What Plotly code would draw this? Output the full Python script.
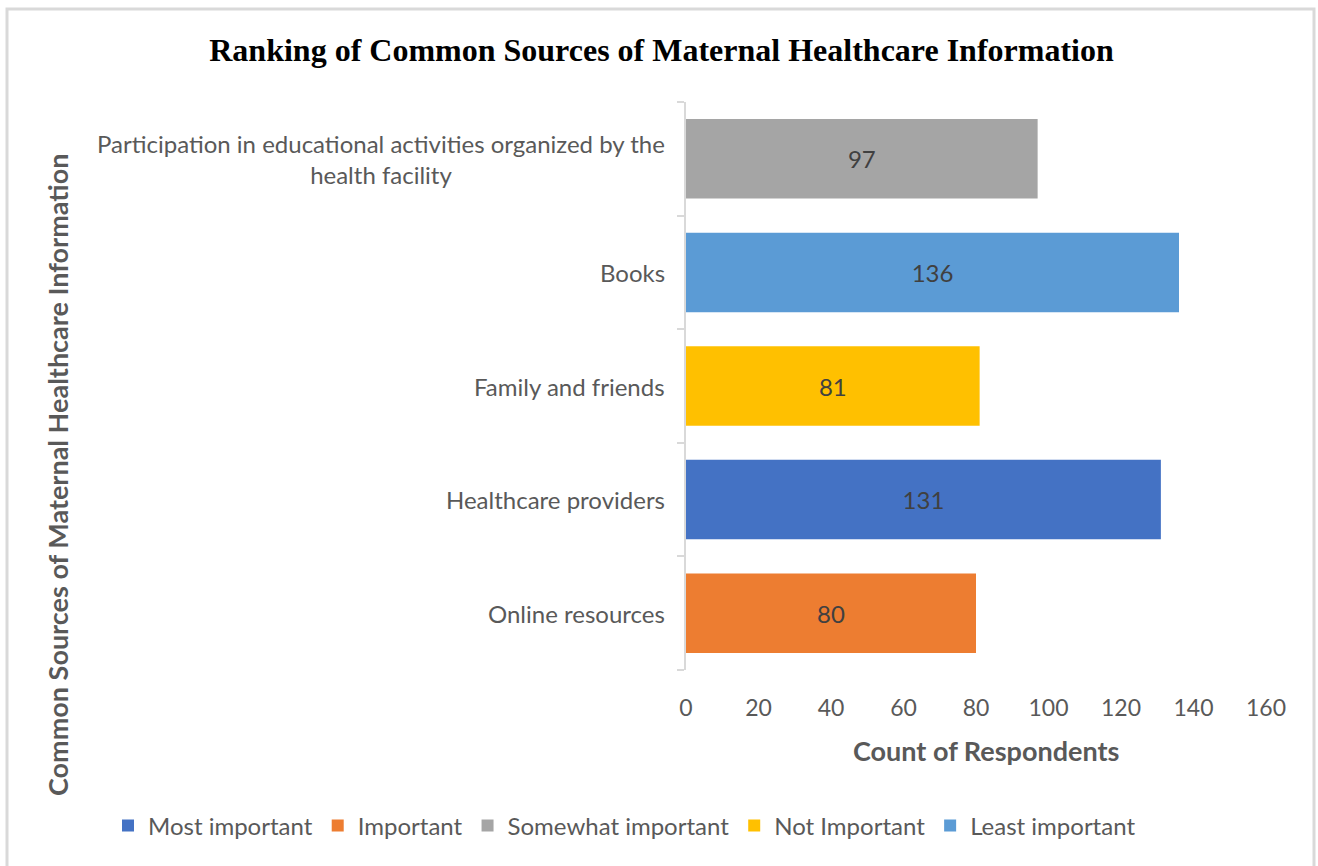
import plotly.graph_objects as go

# Sources ordered bottom-to-top on the category axis
sources = [
    "Online resources",
    "Healthcare providers",
    "Family and friends",
    "Books",
    "Participation in educational activities organized by the<br>health facility",
]

# One series per ranking level (legend order)
rank_levels = ["Most important", "Important", "Somewhat important", "Not Important", "Least important"]
rank_source = [
    "Healthcare providers",
    "Online resources",
    "Participation in educational activities organized by the<br>health facility",
    "Family and friends",
    "Books",
]
rank_counts = [131, 80, 97, 81, 136]
rank_colors = ["#4472C4", "#ED7D31", "#A5A5A5", "#FFC000", "#5B9BD5"]

x_ticks = [0, 20, 40, 60, 80, 100, 120, 140, 160]

W, H = 1318, 866
L, R, T, B = 686, 52, 102, 196
PW, PH = W - L - R, H - T - B


def px_x(px):
    return (px - L) / PW


def px_y(py):
    return (H - B - py) / PH


BODY = "Lato, 'Open Sans', sans-serif"
GREY = "#595959"

fig = go.Figure()
for name, src, val, col in zip(rank_levels, rank_source, rank_counts, rank_colors):
    fig.add_trace(go.Bar(
        name=name,
        y=[src],
        x=[val],
        orientation="h",
        marker=dict(color=col, line=dict(width=0)),
        width=0.7,
        text=[str(val)],
        textposition="inside",
        insidetextanchor="middle",
        textfont=dict(family=BODY, size=24, color="#404040"),
        hoverinfo="x+name",
    ))

# Category labels (centred multi-line block, right edge next to the axis)
annotations = []
for src in sources:
    annotations.append(dict(
        text=src, xref="paper", yref="y", x=0, y=src,
        xanchor="right", yanchor="middle", xshift=-19, align="center",
        showarrow=False, font=dict(family=BODY, size=24, color=GREY),
    ))

annotations.append(dict(
    text="<b>Common Sources of Maternal Healthcare Information</b>",
    xref="paper", yref="paper", x=px_x(57), y=px_y(475),
    xanchor="center", yanchor="middle", textangle=-90, showarrow=False,
    font=dict(family=BODY, size=27, color=GREY),
))

annotations.append(dict(
    text="<b>Count of Respondents</b>",
    xref="paper", yref="paper", x=px_x(986), y=px_y(750),
    xanchor="center", yanchor="middle", showarrow=False,
    font=dict(family=BODY, size=27, color=GREY),
))

fig.update_layout(
    width=W, height=H,
    margin=dict(l=L, r=R, t=T, b=B, autoexpand=False),
    paper_bgcolor="white",
    plot_bgcolor="white",
    barmode="overlay",
    showlegend=True,
    title=dict(
        text="<b>Ranking of Common Sources of Maternal Healthcare Information</b>",
        x=(206 + 1117) / 2 / W, xref="container", xanchor="center",
        y=1 - 50 / H, yref="container", yanchor="middle",
        font=dict(family="'Liberation Serif', 'Times New Roman', serif", size=32, color="#000000"),
    ),
    xaxis=dict(
        range=[0, 160], tickvals=x_ticks, showgrid=False, zeroline=False,
        showline=False, ticks="", ticklabelstandoff=22,
        tickfont=dict(family=BODY, size=23, color=GREY),
        fixedrange=True,
    ),
    yaxis=dict(
        categoryorder="array", categoryarray=sources,
        range=[-0.5, 4.5], showgrid=False, zeroline=False,
        showline=True, linecolor="#d9d9d9", linewidth=2,
        ticks="outside", tickson="boundaries", ticklen=7, tickcolor="#d9d9d9", tickwidth=2,
        showticklabels=False, fixedrange=True,
    ),
    legend=dict(
        orientation="h", xref="paper", yref="paper",
        x=px_x(108), xanchor="left", y=px_y(826), yanchor="middle",
        font=dict(family=BODY, size=24, color=GREY),
        itemwidth=30, traceorder="normal",
    ),
    annotations=annotations,
    shapes=[dict(
        type="rect", xref="paper", yref="paper",
        x0=px_x(7), x1=px_x(1314), y0=px_y(880), y1=px_y(9),
        line=dict(color="#d9d9d9", width=3), fillcolor="rgba(0,0,0,0)", layer="below",
    )],
)

fig.write_html("out.html")
